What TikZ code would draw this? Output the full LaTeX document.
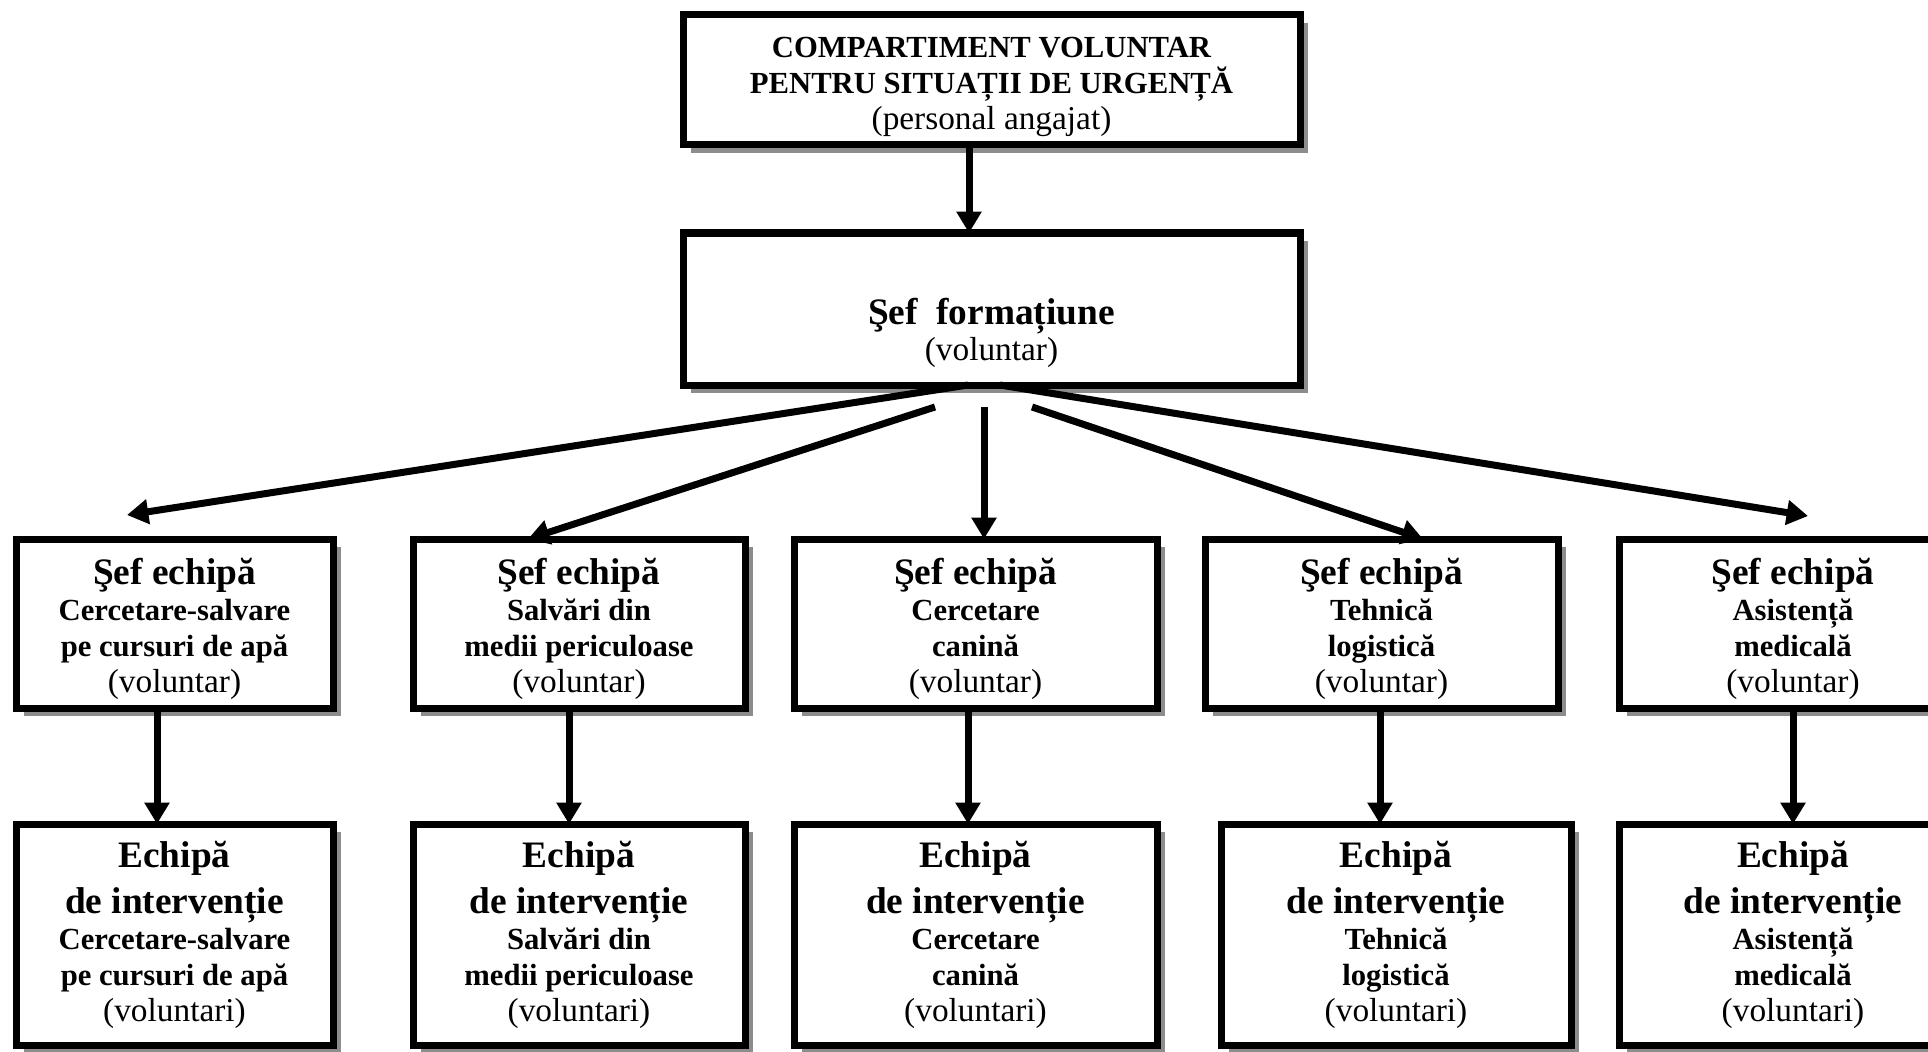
\documentclass[tikz,border=0pt]{standalone}
\usepackage{fontspec}
\setmainfont{Liberation Serif}
\usetikzlibrary{arrows.meta,shadows,calc}
\setlength{\parindent}{0pt}

\newcommand{\headf}{\fontsize{28}{34.5}\selectfont\bfseries\spaceskip=0.25em\relax}
\newcommand{\subf}{\fontsize{23}{27}\selectfont\bfseries\spaceskip=0.25em\relax}
\newcommand{\notef}{\fontsize{25}{27}\selectfont\spaceskip=0.25em\relax}

\begin{document}
\begin{tikzpicture}[x=0.75pt,y=-0.75pt,
    box/.style={draw=black, line width=5.25pt, fill=white, inner sep=0pt, outer sep=0pt,
        align=center, text width=225pt,
        drop shadow={shadow xshift=6pt, shadow yshift=-6pt, fill=black!45, opacity=1}},
    wide/.style={text width=440pt},
    arr/.style={line width=5.25pt, -{Triangle[width=18pt,length=16pt]}}]

    \useasboundingbox (0,0) rectangle (1928,1052);

    \node[box, wide, minimum width=462.75pt, minimum height=97.5pt] (cv) at (991.5,80)
        {{\subf\rule{0pt}{26pt}COMPARTIMENT VOLUNTAR\par PENTRU SITUAȚII DE URGENȚĂ\par}{\notef (personal angajat)\par}};
    \node[box, wide, minimum width=462.75pt, minimum height=114pt] (sf) at (991.5,309)
        {{\headf\rule{0pt}{55pt}Şef\ \ formațiune\par}{\notef (voluntar)\par}};

    % sefi de echipa
    \node[box, minimum width=237.75pt, minimum height=126.75pt] (se1) at (174.5,623.5)
        {{\headf\rule{0pt}{28pt}Şef echipă\par}{\subf Cercetare-salvare\par pe cursuri de apă\par}{\notef (voluntar)\par}};
    \node[box, minimum width=249pt, minimum height=126.75pt] (se2) at (579,623.5)
        {{\headf\rule{0pt}{28pt}Şef echipă\par}{\subf Salvări din\par medii periculoase\par}{\notef (voluntar)\par}};
    \node[box, minimum width=272.25pt, minimum height=126.75pt] (se3) at (975.5,623.5)
        {{\headf\rule{0pt}{28pt}Şef echipă\par}{\subf Cercetare\par canină\par}{\notef (voluntar)\par}};
    \node[box, minimum width=264.75pt, minimum height=126.75pt] (se4) at (1381.5,623.5)
        {{\headf\rule{0pt}{28pt}Şef echipă\par}{\subf Tehnică\par logistică\par}{\notef (voluntar)\par}};
    \node[box, minimum width=261pt, minimum height=126.75pt] (se5) at (1793,623.5)
        {{\headf\rule{0pt}{28pt}Şef echipă\par}{\subf Asistență\par medicală\par}{\notef (voluntar)\par}};

    % echipe de interventie
    \node[box, minimum width=237.75pt, minimum height=165.75pt] (ei1) at (174.5,934.5)
        {{\headf Echipă\par de intervenție\par}{\subf Cercetare-salvare\par pe cursuri de apă\par}{\notef (voluntari)\par}};
    \node[box, minimum width=249pt, minimum height=165.75pt] (ei2) at (579,934.5)
        {{\headf Echipă\par de intervenție\par}{\subf Salvări din\par medii periculoase\par}{\notef (voluntari)\par}};
    \node[box, minimum width=272.25pt, minimum height=165.75pt] (ei3) at (975.5,934.5)
        {{\headf Echipă\par de intervenție\par}{\subf Cercetare\par canină\par}{\notef (voluntari)\par}};
    \node[box, minimum width=262.5pt, minimum height=165.75pt] (ei4) at (1396,934.5)
        {{\headf Echipă\par de intervenție\par}{\subf Tehnică\par logistică\par}{\notef (voluntari)\par}};
    \node[box, minimum width=261pt, minimum height=165.75pt] (ei5) at (1793,934.5)
        {{\headf Echipă\par de intervenție\par}{\subf Asistență\par medicală\par}{\notef (voluntari)\par}};

    \coordinate (t1) at (127,515);
    \coordinate (t5) at (1808,516);
    \coordinate (f2) at (935,407);
    \coordinate (f3) at (984,407);
    \coordinate (f4) at (1032,407);

    \draw[arr] ($(cv.south)+(-22.5,0)$) -- ($(sf.north)+(-22.5,0)$);

    \draw[arr] ($(sf.south)+(-23.5,0)$) -- (t1);
    \draw[arr] (f2) -- ($(se2.north)+(-51,0)$);
    \draw[arr] (f3) -- ($(se3.north)+(8.5,0)$);
    \draw[arr] (f4) -- ($(se4.north)+(41.5,0)$);
    \draw[arr] ($(sf.south)+(8.5,0)$) -- (t5);

    \foreach \i/\da/\db in {1/-17.5/-17.5, 2/-10/-10, 3/-7.5/-7.5, 4/-1.5/-16, 5/0/0}
        \draw[arr] ($(se\i.south)+(\da,0)$) -- ($(ei\i.north)+(\db,0)$);
\end{tikzpicture}
\end{document}
